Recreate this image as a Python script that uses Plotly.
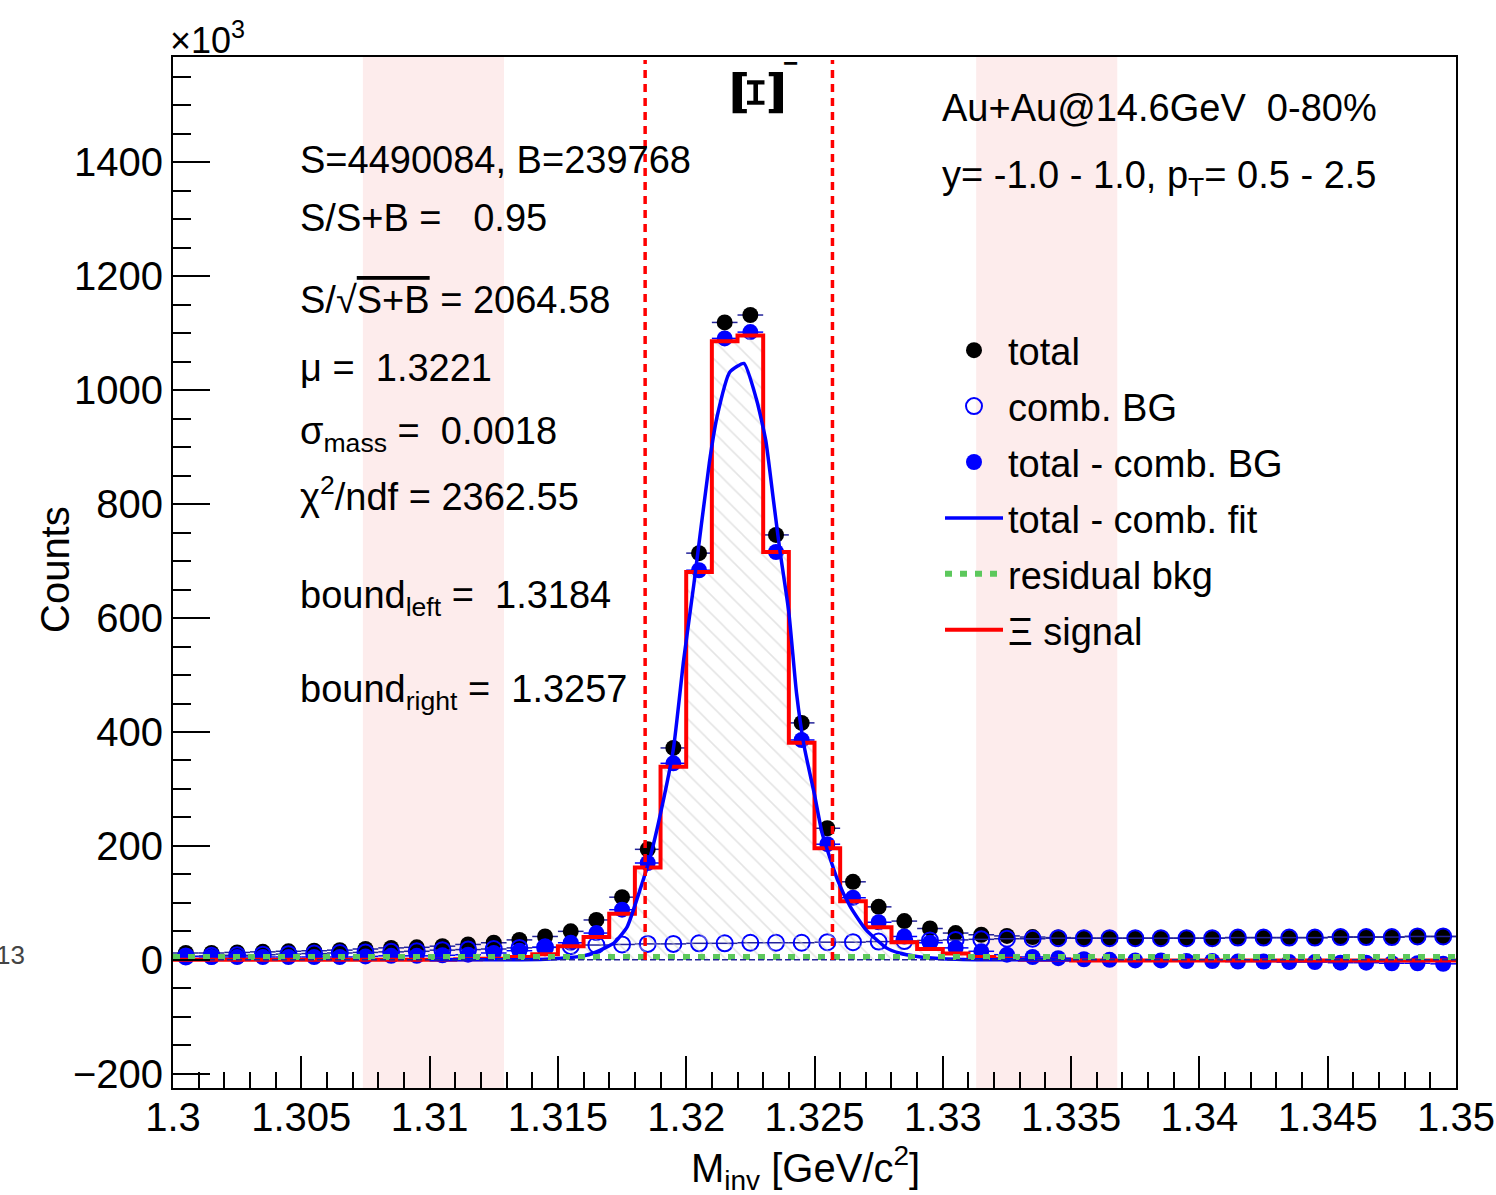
import plotly.graph_objects as go

# ---------------- data (counts in units of 10^3) ----------------
mass_bins = [round(1.3005 + 0.001 * i, 4) for i in range(50)]   # bin centres [GeV/c^2]
hist_edges = [round(1.300 + 0.001 * i, 3) for i in range(51)]   # bin edges of signal histogram

total = [12, 12, 13, 14, 15, 16, 17, 19, 21, 22,
         24, 27, 30, 35, 41, 50, 70, 110, 194, 372,
         714, 1119, 1132, 746, 416, 231, 137, 93, 68, 55,
         47, 44, 42, 40, 39, 38, 38, 38, 38, 38,
         38, 39, 39, 39, 39, 40, 40, 40, 41, 41]

comb_bg = [6, 7, 8, 9, 10, 11, 12, 13, 14, 15,
           17, 18, 19, 21, 22, 24, 26, 27, 28, 28,
           29, 29, 30, 30, 30, 31, 31, 32, 33, 34,
           35, 36, 37, 37, 38, 38, 38, 38, 38, 38,
           38, 39, 39, 39, 39, 40, 40, 40, 41, 41]

total_minus_comb = [6, 5, 5, 5, 5, 5, 5, 6, 7, 7,
                    8, 9, 12, 16, 22, 30, 47, 88, 170, 345,
                    684, 1091, 1102, 716, 386, 203, 109, 66, 41, 30,
                    21, 15, 9, 5, 3, 1, 0, -1, -1, -2,
                    -2, -3, -3, -4, -4, -5, -5, -6, -6, -7]

signal_hist = [0, 0, 0, 0, 0, 0, 0, 0, 0, 0,
               0, 1, 2, 5, 10, 24, 40, 81, 162, 339,
               681, 1086, 1096, 716, 381, 196, 103, 57, 31, 19,
               11, 5, 2, 0, 0, -1, -1, -1, -1, -1,
               -1, -1, -1, -1, -1, -1, -1, -1, -1, -1]

fit_x = [1.3100, 1.3130, 1.3145, 1.3155, 1.3160, 1.3164, 1.3168, 1.3172, 1.3177,
         1.3182, 1.3186, 1.3190, 1.3195, 1.3199, 1.3203, 1.3209, 1.3212, 1.3217,
         1.32225, 1.32275, 1.3231, 1.3234, 1.32365, 1.3240, 1.3243, 1.3246, 1.3250,
         1.3253, 1.3259, 1.3264, 1.3270, 1.3278, 1.3283, 1.3290, 1.3300, 1.3320, 1.3350]
fit_y = [0, 0, 1, 4, 7, 12, 20, 30, 58,
         123, 181, 257, 370, 526, 660, 872, 953, 1032,
         1047, 982, 912, 807, 719, 610, 468, 374, 290,
         222, 140, 93, 53, 21, 12, 6, 2, 0, 0]

residual_bkg = 5
bound_left, bound_right = 1.3184, 1.3257
sideband_left = (1.3074, 1.3129)
sideband_right = (1.3313, 1.3368)

x_tick_vals = [1.3, 1.305, 1.31, 1.315, 1.32, 1.325, 1.33, 1.335, 1.34, 1.345, 1.35]
x_tick_text = ["1.3", "1.305", "1.31", "1.315", "1.32", "1.325", "1.33", "1.335", "1.34", "1.345", "1.35"]
y_tick_vals = [-200, 0, 200, 400, 600, 800, 1000, 1200, 1400]

# ---------------- layout geometry ----------------
W, H = 1496, 1195
L, R, T, B = 173, 1456, 57, 1088
FONT = "Liberation Sans, Arial, Helvetica, sans-serif"
NAVY = "#23239a"


def px(x):
    return (x - L) / (R - L)


def py(y):
    return (B - y) / (B - T)


fig = go.Figure()

# total (black)
fig.add_trace(go.Scatter(
    x=mass_bins, y=total, mode="markers", name="total", legendgroup="g1",
    marker=dict(color="black", size=16, symbol="circle"),
    error_x=dict(type="constant", value=0.0005, color=NAVY, thickness=1.5, width=0),
    legendrank=1))

# comb. BG (open blue)
fig.add_trace(go.Scatter(
    x=mass_bins, y=comb_bg, mode="markers", name="comb. BG", legendgroup="g2",
    marker=dict(color="blue", size=16, symbol="circle-open", line=dict(width=2, color="blue")),
    error_x=dict(type="constant", value=0.0005, color=NAVY, thickness=1.5, width=0),
    legendrank=2))

# total - comb. BG (filled blue)
fig.add_trace(go.Scatter(
    x=mass_bins, y=total_minus_comb, mode="markers", name="total - comb. BG", legendgroup="g3",
    marker=dict(color="blue", size=16, symbol="circle"),
    error_x=dict(type="constant", value=0.0005, color="blue", thickness=1.5, width=0),
    legendrank=3))

# signal histogram hatch fill
step_x = hist_edges
step_y = signal_hist + [signal_hist[-1]]
fig.add_trace(go.Scatter(
    x=step_x, y=step_y, mode="lines", line=dict(width=0, shape="hv"),
    fill="tozeroy", fillcolor="rgba(0,0,0,0)",
    fillpattern=dict(shape="\\", fgcolor="#c9c9c9", bgcolor="rgba(255,255,255,0)",
                     size=13, solidity=0.12, fillmode="overlay"),
    showlegend=False, hoverinfo="skip"))

# signal histogram outline
fig.add_trace(go.Scatter(
    x=step_x, y=step_y, mode="lines", name="\u039E signal", legendgroup="g6",
    line=dict(color="red", width=4, shape="hv"), legendrank=6))

# fit curve
fig.add_trace(go.Scatter(
    x=fit_x, y=fit_y, mode="lines", name="total - comb. fit", legendgroup="g4",
    line=dict(color="blue", width=3.5, shape="spline", smoothing=0.5), legendrank=4))

# residual background
fig.add_trace(go.Scatter(
    x=[hist_edges[0], hist_edges[-1]], y=[residual_bkg, residual_bkg], mode="lines",
    name="residual bkg", legendgroup="g5",
    line=dict(color="#5cc85c", width=6, dash="7px,8px"), legendrank=5))

# zero reference line
fig.add_trace(go.Scatter(
    x=[hist_edges[0], hist_edges[-1]], y=[0, 0], mode="lines",
    line=dict(color=NAVY, width=1.5, dash="6px,3px"), showlegend=False, hoverinfo="skip"))

shapes = []
for lo, hi in (sideband_left, sideband_right):
    shapes.append(dict(type="rect", xref="x", yref="paper", x0=lo, x1=hi, y0=0, y1=1,
                       fillcolor="#fdecec", line=dict(width=0), layer="below"))
for xb in (bound_left, bound_right):
    shapes.append(dict(type="line", xref="x", yref="paper", x0=xb, x1=xb, y0=py(960), y1=py(60),
                       line=dict(color="red", width=3.5, dash="8px,6px"), layer="above"))


def ann(text, x, y, size=38, xanchor="left", yanchor="middle", **kw):
    return dict(text=text, xref="paper", yref="paper", x=px(x), y=py(y), showarrow=False,
                xanchor=xanchor, yanchor=yanchor,
                font=dict(size=size, family=kw.pop("family", FONT), color=kw.pop("color", "black")), **kw)


annotations = [
    ann("S=4490084, B=239768", 298, 160),
    ann("S/S+B =   0.95", 298, 218),
    ann("S/\u221A<span style='text-decoration:overline'>S+B</span> = 2064.58", 298, 300),
    ann("\u03BC =  1.3221", 298, 368),
    ann("\u03C3<sub>mass</sub> =  0.0018", 298, 434),
    ann("\u03C7<sup>2</sup>/ndf = 2362.55", 298, 494),
    ann("bound<sub>left</sub> =  1.3184", 298, 598),
    ann("bound<sub>right</sub> =  1.3257", 298, 692),
    ann("Au+Au@14.6GeV  0-80%", 940, 108),
    ann("y= -1.0 - 1.0, p<sub>T</sub>= 0.5 - 2.5", 940, 178),
    ann("<b>\u039E</b>", 759, 93, size=70, xanchor="center", textangle=-90,
        family="DejaVu Serif, Liberation Serif, serif"),
    ann("<b>\u2212</b>", 790, 63, size=26, xanchor="center"),
    ann("\u00D710<sup>3</sup>", 168, 38, size=36),
    ann("Counts", 55, 570, size=40, xanchor="center", textangle=-90),
    ann("M<sub>inv</sub> [GeV/c<sup>2</sup>]", 805, 1168, size=40, xanchor="center"),
    ann("13", 27, 955, size=26, xanchor="right", color="#444444"),
]

fig.update_layout(
    width=W, height=H,
    margin=dict(l=L, r=W - R, t=T, b=H - B, autoexpand=False),
    paper_bgcolor="white", plot_bgcolor="white",
    font=dict(family=FONT, size=38, color="black"),
    showlegend=True,
    legend=dict(x=px(940), y=py(319), xanchor="left", yanchor="top",
                bgcolor="rgba(0,0,0,0)", borderwidth=0, font=dict(size=38, family=FONT),
                itemwidth=58, traceorder="grouped", tracegroupgap=3.5),
    shapes=shapes, annotations=annotations,
    xaxis=dict(range=[1.3, 1.35], showgrid=False, zeroline=False,
               showline=True, linecolor="black", linewidth=2, mirror=True,
               ticks="inside", ticklen=32, tickwidth=2, tickcolor="black",
               tickvals=x_tick_vals, ticktext=x_tick_text, ticklabelstandoff=-7,
               tickfont=dict(size=40, family=FONT),
               minor=dict(dtick=0.001, tick0=1.3, ticks="inside", ticklen=16, tickwidth=2,
                          tickcolor="black", showgrid=False)),
    yaxis=dict(range=[-225, 1585], showgrid=False, zeroline=False,
               showline=True, linecolor="black", linewidth=2, mirror=True,
               ticks="inside", ticklen=37, tickwidth=2, tickcolor="black",
               tickvals=y_tick_vals, tickfont=dict(size=40, family=FONT),
               minor=dict(dtick=50, tick0=0, ticks="inside", ticklen=18, tickwidth=2,
                          tickcolor="black", showgrid=False)),
)

fig.write_html("out.html", config={"displayModeBar": False},
               post_script="document.body.style.margin='0';")
